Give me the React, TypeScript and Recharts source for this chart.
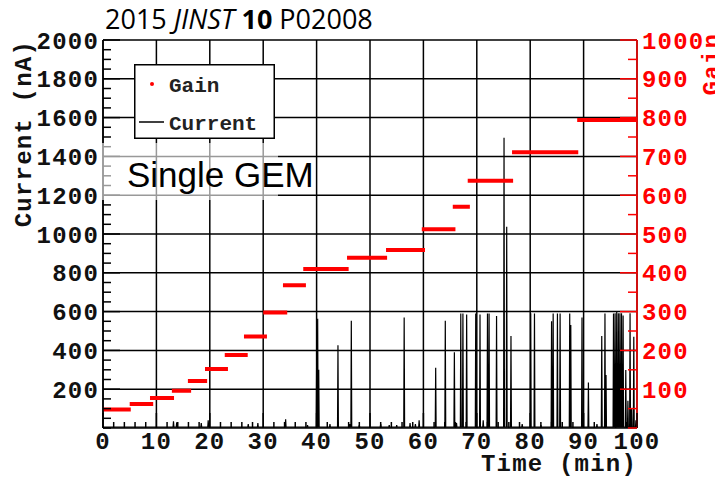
import React from 'react';
import { LineChart, Line, XAxis, YAxis, CartesianGrid } from 'recharts';

// gain plateaus: [start (min), end (min), gain]
const gainSteps: number[][] = [
  [0, 5.2, 48],
  [5, 9.4, 62],
  [8.8, 13.3, 77],
  [12.9, 16.5, 96],
  [15.9, 19.5, 121],
  [19.1, 23.4, 152],
  [22.8, 27.1, 188],
  [26.4, 30.7, 236],
  [30, 34.5, 298],
  [33.7, 38, 368],
  [37.5, 46, 410],
  [45.7, 53.2, 439],
  [53, 60.3, 459],
  [59.7, 66, 512],
  [65.5, 68.7, 570],
  [68.3, 76.8, 637],
  [76.6, 89, 711],
  [88.8, 100, 794],
];

// current spikes: [time (min), peak (nA)]
const currentSpikes: number[][] = [
  [13.2, 35], [13.8, 30], [18.4, 25], [19.7, 40], [27.2, 20], [29.0, 25],
  [34.2, 45], [38.3, 15], [40.0, 320], [40.2, 563], [40.4, 300], [42.5, 20],
  [44.0, 426], [46.2, 20], [46.5, 553], [48.0, 15], [52.0, 20], [53.6, 15],
  [55.0, 15], [56.4, 570], [57.5, 25], [58.5, 20], [59.2, 40], [62.3, 311],
  [64.1, 553], [65.8, 390], [66.2, 25], [67.0, 590], [67.4, 590], [68.1, 585],
  [69.8, 590], [70.6, 585], [71.2, 40], [72.0, 590], [72.3, 590], [73.7, 577],
  [75.1, 1496], [75.6, 1038], [76.4, 474], [78.5, 20], [80.1, 592], [80.8, 590],
  [82.0, 15], [84.0, 550], [84.3, 590], [85.1, 590], [85.6, 590], [87.4, 590],
  [87.6, 531], [89.7, 570], [90.9, 234], [92.5, 20], [93.4, 474], [94.0, 590],
  [94.2, 273], [95.6, 590], [95.9, 592], [96.2, 600], [96.5, 592], [96.8, 592],
  [97.1, 592], [97.4, 580], [97.9, 299], [98.3, 140], [98.7, 592], [99.0, 100],
  [99.4, 470], [99.8, 40],
];
const currentBaseline = 5;

const timeLabels = [0, 10, 20, 30, 40, 50, 60, 70, 80, 90, 100];
const currentLabels = [200, 400, 600, 800, 1000, 1200, 1400, 1600, 1800, 2000];
const gainLabels = [100, 200, 300, 400, 500, 600, 700, 800, 900, 1000];

// minor tick positions
const timeTicks: number[] = [];
for (let i = 0; i <= 100; i += 2) timeTicks.push(i);
const currentTicks: number[] = [];
for (let i = 0; i <= 2000; i += 50) currentTicks.push(i);
const gainTicks: number[] = [];
for (let i = 0; i <= 1000; i += 50) gainTicks.push(i);

const currentData: { t: number; c: number }[] = [{ t: 0, c: currentBaseline }];
currentSpikes.forEach(([t, peak]) => {
  currentData.push({ t: t - 0.08, c: currentBaseline });
  currentData.push({ t, c: peak });
  currentData.push({ t: t + 0.08, c: currentBaseline });
});
currentData.push({ t: 100, c: currentBaseline });

const gainData: { t: number; g: number | null }[] = [];
gainSteps.forEach(([s, e, g]) => {
  gainData.push({ t: s, g });
  gainData.push({ t: e, g });
  gainData.push({ t: e, g: null });
});

const MONO = '"Liberation Mono", "DejaVu Sans Mono", monospace';
const TICK_FONT = { fontFamily: MONO, fontWeight: 700, fontSize: 24, letterSpacing: 1.2 };

const BottomTick = (props: any) => {
  const { x, y, payload } = props;
  const v = payload.value;
  const major = timeLabels.includes(v);
  return (
    <g>
      <line x1={x} x2={x} y1={y} y2={y - (major ? 15 : 6)} stroke="#000" strokeWidth={1.5} />
      {major && (
        <text x={x} y={y + 12} dy="0.36em" textAnchor="middle" fill="#111" style={TICK_FONT}>
          {v}
        </text>
      )}
    </g>
  );
};

const LeftTick = (props: any) => {
  const { x, y, payload } = props;
  const v = payload.value;
  const major = currentLabels.includes(v);
  return (
    <g>
      <line x1={x} x2={x + (major ? 17 : 8)} y1={y} y2={y} stroke="#000" strokeWidth={1.5} />
      {major && (
        <text x={x - 4} y={y} dy="0.36em" textAnchor="end" fill="#111" style={TICK_FONT}>
          {v}
        </text>
      )}
    </g>
  );
};

const RightTick = (props: any) => {
  const { x, y, payload } = props;
  const v = payload.value;
  const major = gainLabels.includes(v);
  return (
    <g>
      <line x1={x} x2={x - (major ? 17 : 9)} y1={y} y2={y} stroke="#f00" strokeWidth={1.5} />
      {major && (
        <text x={x + 5} y={y} dy="0.36em" textAnchor="start" fill="#f00" style={TICK_FONT}>
          {v}
        </text>
      )}
    </g>
  );
};

const ChartLegend = () => (
  <svg
    width={141}
    height={75}
    style={{ position: 'absolute', left: 134, top: 64, background: '#fff' }}
  >
    <rect x={0.75} y={0.75} width={139.5} height={73.5} fill="#fff" stroke="#000" strokeWidth={1.5} />
    <circle cx={18} cy={20} r={2} fill="#f00" />
    <line x1={5} x2={30} y1={58} y2={58} stroke="#000" strokeWidth={1.5} />
    <text x={35} y={20} dy="0.36em" style={{ fontFamily: MONO, fontWeight: 700, fontSize: 21 }} fill="#222">
      Gain
    </text>
    <text x={35} y={58} dy="0.36em" style={{ fontFamily: MONO, fontWeight: 700, fontSize: 21 }} fill="#222">
      Current
    </text>
  </svg>
);

export default function App() {
  return (
    <div
      style={{
        position: 'fixed',
        left: 0,
        top: 0,
        width: 715,
        height: 477,
        overflow: 'hidden',
        background: '#fff',
      }}
    >
      <LineChart width={715} height={477} margin={{ top: 40, right: 0, bottom: 0, left: 3 }}>
        <CartesianGrid
          horizontalValues={currentLabels}
          verticalValues={timeLabels}
          stroke="#000"
          strokeWidth={1.5}
        />
        <XAxis
          dataKey="t"
          type="number"
          domain={[0, 100]}
          ticks={timeTicks}
          interval={0}
          tick={<BottomTick />}
          tickLine={false}
          tickSize={0}
          tickMargin={0}
          height={49}
          axisLine={{ stroke: '#000', strokeWidth: 1.5 }}
          allowDataOverflow
        />
        <YAxis
          type="number"
          domain={[0, 2000]}
          ticks={currentTicks}
          interval={0}
          tick={<LeftTick />}
          tickLine={false}
          tickSize={0}
          tickMargin={0}
          width={100}
          axisLine={{ stroke: '#000', strokeWidth: 1.5 }}
          allowDataOverflow
        />
        <YAxis
          yAxisId="gain"
          orientation="right"
          type="number"
          domain={[0, 1000]}
          ticks={gainTicks}
          interval={0}
          tick={<RightTick />}
          tickLine={false}
          tickSize={0}
          tickMargin={0}
          width={78}
          axisLine={{ stroke: '#f00', strokeWidth: 1.5 }}
          allowDataOverflow
        />
        <Line
          data={currentData}
          dataKey="c"
          name="Current"
          type="linear"
          stroke="#000"
          strokeWidth={1.2}
          dot={false}
          isAnimationActive={false}
        />
        <Line
          yAxisId="gain"
          data={gainData}
          dataKey="g"
          name="Gain"
          type="linear"
          stroke="#f00"
          strokeWidth={4}
          dot={false}
          connectNulls={false}
          isAnimationActive={false}
        />
      </LineChart>

      <ChartLegend />

      {/* faded box behind the label */}
      <div
        style={{
          position: 'absolute',
          left: 100,
          top: 143,
          width: 178,
          height: 57,
          background: 'rgba(255,255,255,0.6)',
        }}
      />
      <div
        style={{
          position: 'absolute',
          left: 127,
          top: 155,
          fontFamily: '"Liberation Sans", Arial, sans-serif',
          fontSize: 35,
          lineHeight: '40px',
          color: '#000',
          whiteSpace: 'nowrap',
        }}
      >
        Single GEM
      </div>

      <div
        style={{
          position: 'absolute',
          left: 105,
          top: 3,
          fontFamily: '"Open Sans", "Noto Sans", sans-serif',
          fontSize: 27,
          lineHeight: '32px',
          color: '#000',
          whiteSpace: 'nowrap',
        }}
      >
        2015 <i>JINST</i> <b>10</b> P02008
      </div>

      <svg width={715} height={477} style={{ position: 'absolute', left: 0, top: 0, pointerEvents: 'none' }}>
        <text
          transform="translate(22,40) rotate(-90)"
          textAnchor="end"
          dy="0.36em"
          fill="#111"
          style={TICK_FONT}
        >
          Current (nA)
        </text>
        <text x={637} y={462} textAnchor="end" dy="0.36em" fill="#111" style={TICK_FONT}>
          Time (min)
        </text>
        <text
          transform="translate(710,33) rotate(-90)"
          textAnchor="end"
          dy="0.36em"
          fill="#f00"
          style={TICK_FONT}
        >
          Gain
        </text>
      </svg>
    </div>
  );
}
